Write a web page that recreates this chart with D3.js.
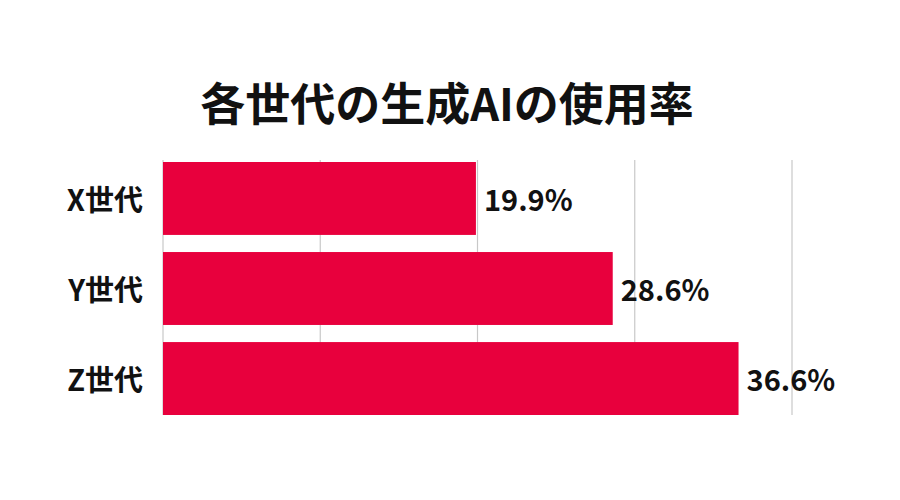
<!DOCTYPE html>
<html><head><meta charset="utf-8">
<script src="https://cdn.jsdelivr.net/npm/d3@7"></script>
<style>body{margin:0;background:#fff}</style>
</head><body>
<svg id="c" width="900" height="500"></svg>
<script>
const categories = ["X世代", "Y世代", "Z世代"];
const values = [19.9, 28.6, 36.6];
const ticks = [10, 20, 30, 40];
const title = "各世代の生成AIの使用率";

const svg = d3.select("#c");
const font = "'Noto Sans CJK JP', 'Noto Sans', sans-serif";
const x = d3.scaleLinear().domain([0, 40]).range([163, 792]);
const y = d3.scaleBand().domain(categories).range([162, 415]).paddingInner(0.19).paddingOuter(0);

svg.append("text").attr("x", 447).attr("y", 121).attr("text-anchor", "middle")
  .attr("font-family", font).attr("font-weight", 700).attr("font-size", 45).attr("fill", "#111").text(title);

svg.append("g").selectAll("line").data(ticks).join("line")
  .attr("x1", d => x(d)).attr("x2", d => x(d)).attr("y1", 160).attr("y2", 415)
  .attr("stroke", "#c8c8c8").attr("stroke-width", 1.2);

svg.append("line").attr("x1", x(0)).attr("x2", x(0)).attr("y1", 160).attr("y2", 415)
  .attr("stroke", "#c8c8c8").attr("stroke-width", 1.2);

svg.append("g").selectAll("rect").data(values).join("rect")
  .attr("x", x(0)).attr("y", (d, i) => y(categories[i]))
  .attr("width", d => x(d) - x(0)).attr("height", y.bandwidth())
  .attr("fill", "#E8003D");

svg.append("g").selectAll("text").data(values).join("text")
  .attr("x", d => x(d) + 8).attr("y", (d, i) => y(categories[i]) + y.bandwidth() / 2 + 2)
  .attr("dy", "0.35em").attr("font-family", font).attr("font-weight", 700)
  .attr("font-size", 29).attr("fill", "#111").text(d => d.toFixed(1) + "%");

svg.append("g").selectAll("text").data(categories).join("text")
  .attr("x", 143).attr("y", d => y(d) + y.bandwidth() / 2 + 2)
  .attr("dy", "0.35em").attr("text-anchor", "end").attr("font-family", font).attr("font-weight", 700)
  .attr("font-size", 29).attr("fill", "#111").text(d => d);
</script>
</body></html>
